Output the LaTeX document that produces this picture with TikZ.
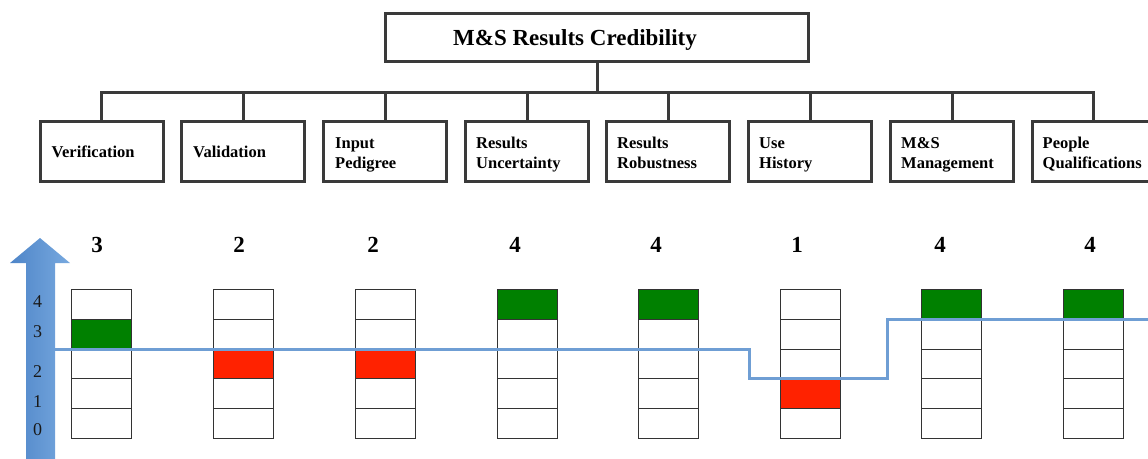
\documentclass[tikz,border=0pt]{standalone}
\usepackage{fontspec}
\setmainfont{Liberation Serif}
\definecolor{framegray}{HTML}{3A3A3A}
\definecolor{cellgreen}{HTML}{008000}
\definecolor{cellred}{HTML}{FF2200}
\definecolor{stepblue}{HTML}{6F9ED4}
\definecolor{axisleft}{HTML}{4E85C8}
\definecolor{axisright}{HTML}{78A9DF}
\begin{document}
\begin{tikzpicture}[x=1pt,y=-1pt,
  frame/.style={draw=framegray,line width=3pt,fill=white,minimum width=123,minimum height=60,inner sep=0},
  lbl/.style={anchor=base west,inner sep=0,font=\fontsize{16.5}{19.5}\selectfont\bfseries},
  link/.style={draw=framegray,line width=3pt},
  cell/.style={draw=black!80,line width=0.9pt,minimum width=60,minimum height=29.8,inner sep=0},
  score/.style={font=\fontsize{23}{26}\selectfont\bfseries},
  tick/.style={font=\fontsize{18}{20}\selectfont,text=black!90},
  level/.style={draw=stepblue,line width=3pt,line join=miter}]
\useasboundingbox (0,0) rectangle (1148,458);
\clip (0,0) rectangle (1148,458);

% root of the hierarchy
\node[draw=framegray,line width=3pt,minimum width=423,minimum height=48,inner sep=0] (root) at (597,37.5) {};
\node[font=\fontsize{23}{26}\selectfont\bfseries] (title) at (575,40) {M\&S Results Credibility};

% credibility factors
\node[frame] (b1) at (101.5,151) {};
\node[frame] (b2) at (243,151) {};
\node[frame] (b3) at (385,151) {};
\node[frame] (b4) at (527,151) {};
\node[frame] (b5) at (668,151) {};
\node[frame] (b6) at (810,151) {};
\node[frame] (b7) at (952,151) {};
\node[frame] (b8) at (1093.5,151) {};

% factor names (one or two lines, baselines 157.5 or 148/168)
\node[lbl] (t1)  at ([xshift=13]b1.west |- 0,157.5) {Verification};
\node[lbl] (t2)  at ([xshift=13]b2.west |- 0,157.5) {Validation};
\node[lbl] (t3a) at ([xshift=13]b3.west |- 0,148) {Input};
\node[lbl] (t3b) at ([xshift=13]b3.west |- 0,168) {Pedigree};
\node[lbl] (t4a) at ([xshift=12]b4.west |- 0,148) {Results};
\node[lbl] (t4b) at ([xshift=12]b4.west |- 0,168) {Uncertainty};
\node[lbl] (t5a) at ([xshift=12]b5.west |- 0,148) {Results};
\node[lbl] (t5b) at ([xshift=12]b5.west |- 0,168) {Robustness};
\node[lbl] (t6a) at ([xshift=12]b6.west |- 0,148) {Use};
\node[lbl] (t6b) at ([xshift=12]b6.west |- 0,168) {History};
\node[lbl] (t7a) at ([xshift=12]b7.west |- 0,148) {M\&S};
\node[lbl] (t7b) at ([xshift=12]b7.west |- 0,168) {Management};
\node[lbl] (t8a) at ([xshift=12]b8.west |- 0,148) {People};
\node[lbl] (t8b) at ([xshift=12]b8.west |- 0,168) {Qualifications};

% tree connectors
\coordinate (bar) at (0,92);
\draw[link] (root.south) -- (root.south |- bar);
\draw[link,line join=miter] (b1.north) -- (b1.north |- bar) -- (b8.north |- bar) -- (b8.north);
\foreach \b in {b2,b3,b4,b5,b6,b7}
  \draw[link] (\b.north |- bar) -- (\b.north);

% vertical scale arrow
\shade[left color=axisleft,right color=axisright]
  (26,460) -- (26,263) -- (10,263) -- (40,238) -- (70,263) -- (55,263) -- (55,460) -- cycle;
\node[tick] (a4) at (37.5,302) {4};
\node[tick] (a3) at (37.5,332) {3};
\node[tick] (a2) at (37.5,372) {2};
\node[tick] (a1) at (37.5,402) {1};
\node[tick] (a0) at (37.5,430) {0};

% level columns: column index / x centre / achieved level / fill colour
\foreach \i/\x/\lev/\col in {1/101/3/cellgreen,2/243/2/cellred,3/385/2/cellred,4/527/4/cellgreen,
                              5/668/4/cellgreen,6/810/1/cellred,7/951.5/4/cellgreen,8/1093/4/cellgreen}{
  \foreach \l in {0,...,4}{
    \ifnum\l=\lev
      \node[cell,fill=\col] (c\i-\l) at (\x,423.5-29.8*\l) {};
    \else
      \node[cell,fill=white] (c\i-\l) at (\x,423.5-29.8*\l) {};
    \fi
  }
}

% scores above the columns
\node[score] (n1) at (97,245) {3};
\node[score] (n2) at (239,245) {2};
\node[score] (n3) at (373,245) {2};
\node[score] (n4) at (515,245) {4};
\node[score] (n5) at (656,245) {4};
\node[score] (n6) at (797,245) {1};
\node[score] (n7) at (940,245) {4};
\node[score] (n8) at (1090,245) {4};

% required-level step line
\coordinate (s0) at (55,349);
\coordinate (s1) at (749,349);
\coordinate (s2) at (749,378.5);
\coordinate (s3) at (887,378.5);
\coordinate (s4) at (887,319);
\coordinate (s5) at (1150,319);
\draw[level] (s0) -- (s1) -- (s2) -- (s3) -- (s4) -- (s5);
\end{tikzpicture}
\end{document}
